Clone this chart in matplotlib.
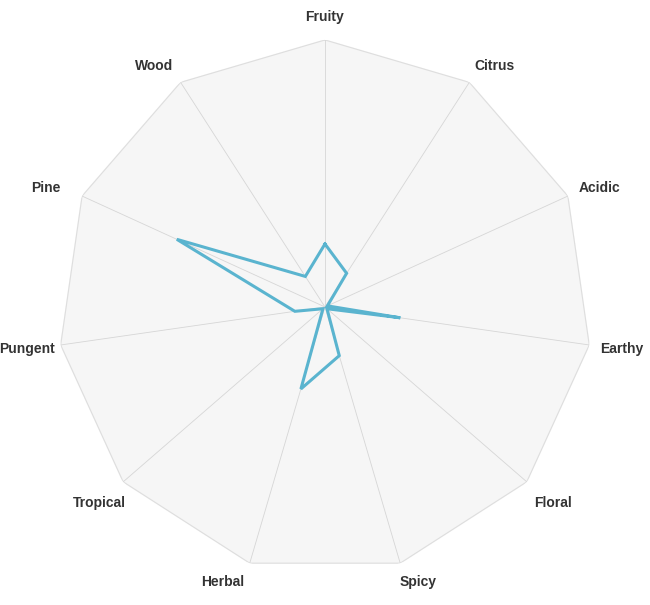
import numpy as np
import matplotlib
matplotlib.use("Agg")
import matplotlib.pyplot as plt

# flavour profile
labels = ["Fruity", "Citrus", "Acidic", "Earthy", "Floral", "Spicy",
          "Herbal", "Tropical", "Pungent", "Pine", "Wood"]
values = [0.236, 0.15, 0.01, 0.285, 0.01, 0.19, 0.32, 0.01, 0.114, 0.61, 0.136]

# label placement (pixel offset from the outer vertex, x right / y down) and alignment
label_off = [(0, -16), (5, -16), (11, -8), (11, 4), (7, 21), (-1, 19),
             (-5, 19), (3, 21), (-6, 4), (-22, -8), (-7, -16)]

n = len(labels)
angles = np.linspace(0, 2 * np.pi, n, endpoint=False)

fig = plt.figure(figsize=(6.5, 6.05), dpi=100)
ax = fig.add_axes([0.0892, 0.0513, 0.8215, 0.8826], projection="polar")
ax.set_theta_zero_location("N")
ax.set_theta_direction(-1)
ax.set_ylim(0, 1)
ax.axis("off")

# polygon background + spokes
ring = np.append(angles, angles[0])
ax.fill(ring, np.ones(n + 1), color="#f6f6f6", zorder=0)
ax.plot(ring, np.ones(n + 1), color="#dedede", lw=0.8, zorder=1)
for a in angles:
    ax.plot([a, a], [0, 1], color="#d6d6d6", lw=0.6, zorder=1)

# data line
v = np.append(values, values[0])
ax.plot(ring, v, color="#5ab4cf", lw=2.2, zorder=3, solid_joinstyle="miter")

# labels
for a, lab, (dx, dy) in zip(angles, labels, label_off):
    s = np.sin(a)
    if abs(s) < 0.05:
        ha, va = "center", "bottom"
    elif s > 0:
        ha, va = "left", "center"
    else:
        ha, va = "right", "center"
    ax.annotate(lab, xy=(a, 1), xytext=(dx, -dy), textcoords="offset pixels",
                ha=ha, va=va, fontsize=10, fontweight="bold",
                color="#333333", family="Liberation Sans",
                annotation_clip=False)

fig.savefig("out.png", dpi=100)
